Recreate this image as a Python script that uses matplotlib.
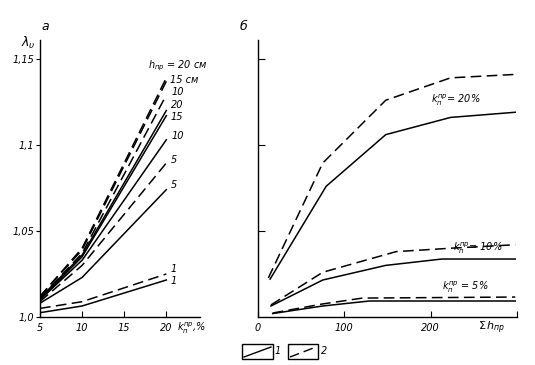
import matplotlib
matplotlib.use('Agg')
import matplotlib.pyplot as plt
from matplotlib.patches import Rectangle
from matplotlib.lines import Line2D

# panel a: lambda vs k_p (%) for several h_pr, solid = 1, dashed = 2
k_vals = [5, 10, 20]
a_solid = {
    '1': [1.0025, 1.0064, 1.0215],
    '5': [1.008, 1.023, 1.074],
    '10': [1.010, 1.033, 1.103],
    '15': [1.010, 1.035, 1.117],
    '20': [1.011, 1.036, 1.120],
}
a_dashed = {
    '1': [1.005, 1.0089, 1.025],
    '5': [1.009, 1.030, 1.0895],
    '10': [1.011, 1.037, 1.129],
    '15': [1.012, 1.039, 1.137],
    '20': [1.012, 1.040, 1.139],
}

# panel b: lambda vs sum h_pr for k = 20, 10, 5 %
b20_solid_x = [14, 79, 148, 223, 298]
b20_solid_y = [1.022, 1.076, 1.106, 1.116, 1.119]
b20_dash_x = [12, 75, 148, 223, 298]
b20_dash_y = [1.0227, 1.0895, 1.126, 1.139, 1.141]
b10_solid_x = [15, 75, 148, 213, 298]
b10_solid_y = [1.0064, 1.0215, 1.030, 1.0337, 1.0337]
b10_dash_x = [15, 75, 160, 224, 298]
b10_dash_y = [1.007, 1.026, 1.038, 1.040, 1.042]
b5_solid_x = [17, 75, 129, 298]
b5_solid_y = [1.002, 1.0064, 1.0093, 1.0093]
b5_dash_x = [17, 75, 121, 298]
b5_dash_y = [1.0023, 1.0076, 1.011, 1.0116]

yticks = [1.0, 1.05, 1.1, 1.15]
ytick_labels = ['1,0', '1,05', '1,1', '1,15']

W, H = 535, 365
fig = plt.figure(figsize=(W / 100, H / 100), dpi=100)

def fx(px):
    return px / W

def fy(py):
    return 1 - py / H

dash = (0, (7, 3.5))
lw = 1.1
fs = 7

ax1 = fig.add_axes([fx(40), fy(317), fx(200) - fx(40), fy(40) - fy(317)])
ax2 = fig.add_axes([fx(258), fy(317), fx(517) - fx(258), fy(40) - fy(317)])

for key in a_solid:
    ax1.plot(k_vals, a_solid[key], color='black', lw=lw)
    ax1.plot(k_vals, a_dashed[key], color='black', lw=lw, linestyle=dash)

ax1.set_xlim(5, 24)
ax1.set_ylim(1.0, 1.161)
ax1.set_xticks([5, 10, 15, 20])
ax1.set_xticklabels(['5', '10', '15', '20'], fontstyle='italic', fontsize=fs)
ax1.set_yticks(yticks)
ax1.set_yticklabels(ytick_labels, fontstyle='italic', fontsize=fs)
ax1.tick_params(axis='x', direction='in', length=4, pad=4)
ax1.tick_params(axis='y', direction='out', length=3, pad=1)

lbl = dict(fontsize=fs, fontstyle='italic', va='center', ha='left')
ax1.text(17.8, 1.146, r'$h_{пр}$ = 20 см', **lbl)
ax1.text(20.4, 1.138, '15 см', **lbl)
ax1.text(20.6, 1.131, '10', **lbl)
ax1.text(20.5, 1.123, '20', **lbl)
ax1.text(20.5, 1.116, '15', **lbl)
ax1.text(20.6, 1.105, '10', **lbl)
ax1.text(20.5, 1.091, '5', **lbl)
ax1.text(20.5, 1.077, '5', **lbl)
ax1.text(20.5, 1.028, '1', **lbl)
ax1.text(20.5, 1.021, '1', **lbl)
ax1.text(21.3, 0.9935, r'$k_{п}^{пр}$,%', fontsize=fs, fontstyle='italic',
         va='center', ha='left', clip_on=False)

ax2.plot(b20_solid_x, b20_solid_y, color='black', lw=lw)
ax2.plot(b20_dash_x, b20_dash_y, color='black', lw=lw, linestyle=dash)
ax2.plot(b10_solid_x, b10_solid_y, color='black', lw=lw)
ax2.plot(b10_dash_x, b10_dash_y, color='black', lw=lw, linestyle=dash)
ax2.plot(b5_solid_x, b5_solid_y, color='black', lw=lw)
ax2.plot(b5_dash_x, b5_dash_y, color='black', lw=lw, linestyle=dash)

ax2.set_xlim(0, 300)
ax2.set_ylim(1.0, 1.161)
ax2.set_xticks([0, 100, 200, 300])
ax2.set_xticklabels(['0', '100', '200', ''], fontstyle='italic', fontsize=fs)
ax2.set_yticks([1.05, 1.1, 1.15])
ax2.set_yticklabels([])
ax2.tick_params(axis='x', direction='in', length=4, pad=4)
ax2.tick_params(axis='y', direction='in', length=5)

ax2.text(200, 1.126, r'$k_{п}^{пр}$= 20%', **lbl)
ax2.text(226, 1.040, r'$k_{п}^{пр}$= 10%', **lbl)
ax2.text(213, 1.017, r'$k_{п}^{пр}$ = 5%', **lbl)
ax2.text(255, 0.9935, r'$\Sigma\, h_{пр}$', fontsize=fs + 1, fontstyle='italic',
         va='center', ha='left', clip_on=False)

for ax in (ax1, ax2):
    ax.spines['top'].set_visible(False)
    ax.spines['right'].set_visible(False)
    ax.spines['left'].set_linewidth(1.0)
    ax.spines['bottom'].set_linewidth(1.0)
    ax.set_facecolor('none')

fig.text(fx(45), fy(27), 'а', fontsize=9, fontstyle='italic', ha='center', va='center')
fig.text(fx(28), fy(43), r'$\lambda_{\upsilon}$', fontsize=9, ha='center', va='center')
fig.text(fx(243), fy(27), 'б', fontsize=9, fontstyle='italic', ha='center', va='center')

# legend boxes at the bottom
for x0, x1, ls, name, tx in [(242, 273, '-', '1', 278), (288, 318, dash, '2', 324)]:
    fig.add_artist(Rectangle((fx(x0), fy(359)), fx(x1) - fx(x0), fy(344) - fy(359),
                             transform=fig.transFigure, fill=False, lw=1.0, ec='black'))
    fig.add_artist(Line2D([fx(x0 + 2), fx(x1 - 2)], [fy(357), fy(347)],
                          transform=fig.transFigure, color='black', lw=1.0, linestyle=ls))
    fig.text(fx(tx), fy(351), name, fontsize=fs, fontstyle='italic', ha='center', va='center')

fig.savefig('out.png', dpi=100)
